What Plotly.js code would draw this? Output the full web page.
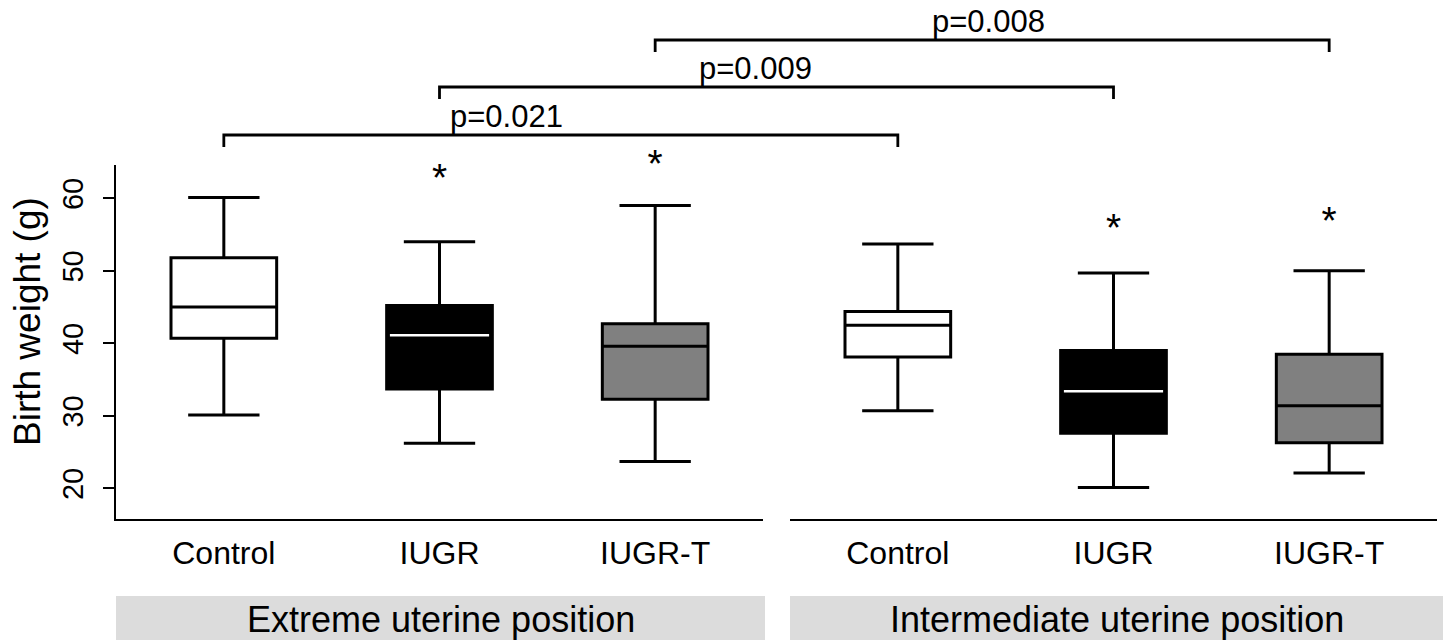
<!DOCTYPE html>
<html>
<head>
<meta charset="utf-8">
<script src="https://cdn.plot.ly/plotly-3.0.1.min.js"></script>
<style>html,body{margin:0;padding:0;background:#fff;}#chart{width:1443px;height:640px;}</style>
</head>
<body>
<div id="chart"></div>
<script>
// ---- Data ----
const groups = ['Control', 'IUGR', 'IUGR-T'];
const panelNames = ['Extreme uterine position', 'Intermediate uterine position'];
const yTitle = 'Birth weight (g)';
const yTicks = [20, 30, 40, 50, 60];

const extremeLower  = [30.1, 26.2, 23.7];
const extremeQ1     = [40.7, 33.7, 32.3];
const extremeMedian = [45.0, 41.1, 39.6];
const extremeQ3     = [51.8, 45.2, 42.7];
const extremeUpper  = [60.1, 54.0, 59.0];

const interLower  = [30.7, 20.1, 22.1];
const interQ1     = [38.1, 27.6, 26.3];
const interMedian = [42.5, 33.4, 31.4];
const interQ3     = [44.4, 39.0, 38.5];
const interUpper  = [53.7, 49.7, 50.0];

const extremeSignificant = [false, true, true];
const interSignificant   = [false, true, true];

const pLabels = ['p=0.021', 'p=0.009', 'p=0.008'];
const pGroupIndex = [0, 1, 2]; // compares same group across the two positions

// ---- Styles / layout geometry ----
const FONT = 'Liberation Sans, Arial, Helvetica, sans-serif';
const W = 1443, H = 640;
const M = {l: 116, r: 6, t: 165, b: 121};
const plotW = W - M.l - M.r, plotH = H - M.t - M.b;
const px2x = px => (px - M.l) / plotW;
const px2y = py => (H - M.b - py) / plotH;
const dom1 = [0, px2x(763)];
const dom2 = [px2x(790), 1];
const xr = [-0.5, 2.5];
const fills = ['#ffffff', '#000000', '#808080'];
const medianColors = ['#000000', '#ffffff', '#000000'];
// star annotation heights (placement of the "*" labels, in y units)
const starPlacement = [[null, 62.4, 64.3], [null, 55.5, 56.4]];

const panels = [
  {xa: 'x',  dom: dom1, lo: extremeLower, q1: extremeQ1, med: extremeMedian, q3: extremeQ3, up: extremeUpper, sig: extremeSignificant},
  {xa: 'x2', dom: dom2, lo: interLower,   q1: interQ1,   med: interMedian,   q3: interQ3,   up: interUpper,   sig: interSignificant}
];

const traces = [];
panels.forEach((p, pi) => {
  groups.forEach((g, i) => {
    traces.push({
      type: 'box', x: [g], q1: [p.q1[i]], median: [p.med[i]], q3: [p.q3[i]],
      lowerfence: [p.lo[i]], upperfence: [p.up[i]],
      xaxis: p.xa, yaxis: 'y', width: 0.49, whiskerwidth: 0.675,
      fillcolor: fills[i], line: {color: '#000', width: 3},
      boxpoints: false, hoverinfo: 'skip', showlegend: false
    });
    if (medianColors[i] !== '#000000') {
      traces.push({
        type: 'box', x: [g], q1: [p.med[i]], median: [p.med[i]], q3: [p.med[i]],
        lowerfence: [p.med[i]], upperfence: [p.med[i]],
        xaxis: p.xa, yaxis: 'y', width: 0.46, whiskerwidth: 0,
        fillcolor: 'rgba(0,0,0,0)', line: {color: medianColors[i], width: 2.5},
        boxpoints: false, hoverinfo: 'skip', showlegend: false
      });
    }
  });
  const sx = [], sy = [], st = [];
  groups.forEach((g, i) => {
    if (p.sig[i]) { sx.push(g); sy.push(starPlacement[pi][i]); st.push('*'); }
  });
  traces.push({
    type: 'scatter', mode: 'text', x: sx, y: sy, text: st,
    xaxis: p.xa, yaxis: 'y', cliponaxis: false,
    textfont: {family: FONT, size: 39, color: '#000'},
    textposition: 'middle center', hoverinfo: 'skip', showlegend: false
  });
});

function catToPaper(dom, idx) {
  return dom[0] + (idx - xr[0]) / (xr[1] - xr[0]) * (dom[1] - dom[0]);
}

const shapes = [];
const annotations = [];
// strips
[dom1, dom2].forEach((d, k) => {
  const x1 = k === 1 ? 1 + M.r / plotW : px2x(765);
  shapes.push({type: 'rect', xref: 'paper', yref: 'paper', x0: d[0], x1: x1,
    y0: px2y(596), y1: px2y(660), fillcolor: '#dcdcdc', line: {width: 0}, layer: 'below'});
  annotations.push({xref: 'paper', yref: 'paper', x: (d[0] + x1) / 2, y: px2y(619),
    text: panelNames[k], showarrow: false, xanchor: 'center', yanchor: 'middle',
    font: {family: FONT, size: 36, color: '#000'}});
});

// y-axis title (rotated)
annotations.push({xref: 'paper', yref: 'paper', x: px2x(27), y: px2y(322),
  text: yTitle, textangle: -90, showarrow: false, xanchor: 'center', yanchor: 'middle',
  font: {family: FONT, size: 37, color: '#000'}});

// brackets
const bracketLine = [135, 87, 40];
const bracketDrop = 12;
const pTextCenter = [506, 755, 989];
pLabels.forEach((lab, k) => {
  const xa = catToPaper(dom1, pGroupIndex[k]);
  const xb = catToPaper(dom2, pGroupIndex[k]);
  const yl = px2y(bracketLine[k]), yd = px2y(bracketLine[k] + bracketDrop);
  shapes.push({type: 'path', xref: 'paper', yref: 'paper',
    path: `M ${xa} ${yd} L ${xa} ${yl} L ${xb} ${yl} L ${xb} ${yd}`,
    line: {color: '#000', width: 2.8}});
  annotations.push({xref: 'paper', yref: 'paper', x: px2x(pTextCenter[k]), y: yl,
    text: lab, showarrow: false, xanchor: 'center', yanchor: 'bottom', borderpad: 0,
    font: {family: FONT, size: 31, color: '#000'}});
});

const xaxisBase = {
  type: 'category', categoryarray: groups, range: xr, showline: true, linewidth: 2.2, linecolor: '#000',
  ticks: '', showgrid: false, zeroline: false, anchor: 'y', automargin: false,
  tickfont: {family: FONT, size: 32, color: '#000'}, ticklabelstandoff: 4, fixedrange: true
};

const layout = {
  width: W, height: H, margin: M, paper_bgcolor: '#fff', plot_bgcolor: '#fff',
  showlegend: false, boxmode: 'overlay',
  xaxis: Object.assign({}, xaxisBase, {domain: dom1}),
  xaxis2: Object.assign({}, xaxisBase, {domain: dom2}),
  yaxis: {
    range: [15.77, 64.59], tickvals: yTicks, tickangle: -90,
    ticks: 'outside', ticklen: 11, tickwidth: 2, tickcolor: '#000',
    showline: true, linewidth: 2.2, linecolor: '#000', showgrid: false, zeroline: false,
    anchor: 'x', automargin: false, ticklabelstandoff: 8,
    tickfont: {family: FONT, size: 29, color: '#000'}
  },
  shapes: shapes, annotations: annotations
};

Plotly.newPlot('chart', traces, layout, {displayModeBar: false, staticPlot: true});
</script>
</body>
</html>
